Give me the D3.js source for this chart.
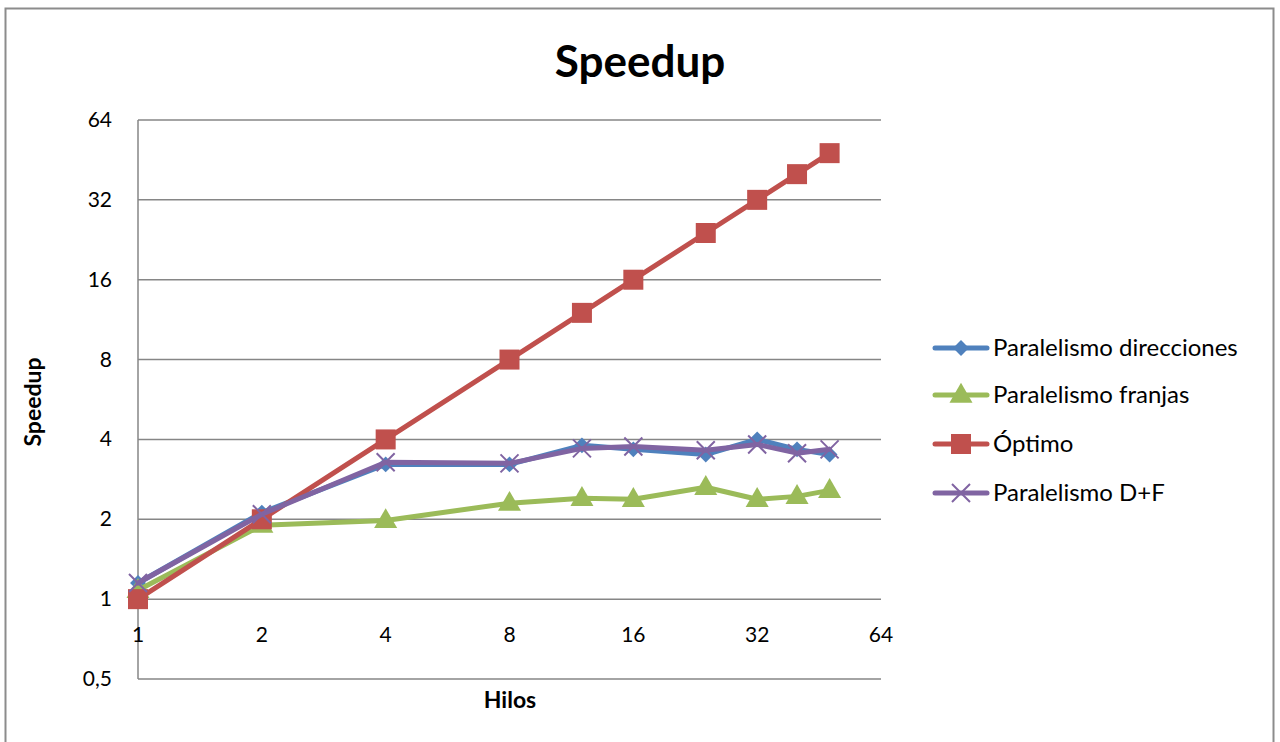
<!DOCTYPE html>
<html><head><meta charset="utf-8">
<script src="https://cdn.jsdelivr.net/npm/d3@7"></script>
<style>body{margin:0;background:#fff}svg{display:block;font-family:Lato,"Open Sans",sans-serif}</style>
</head><body><svg id="c" width="1280" height="742"></svg>
<script>
const hilos = [1, 2, 4, 8, 12, 16, 24, 32, 40, 48];
const direcciones = [1.15, 2.12, 3.22, 3.22, 3.8, 3.67, 3.51, 4.0, 3.67, 3.51];
const franjas = [1.08, 1.9, 1.98, 2.3, 2.4, 2.38, 2.64, 2.38, 2.44, 2.57];
const optimo = [1, 2, 4, 8, 12, 16, 24, 32, 40, 48];
const dmasf = [1.15, 2.09, 3.28, 3.25, 3.7, 3.76, 3.64, 3.83, 3.55, 3.67];
const xTicks = [1, 2, 4, 8, 16, 32, 64];
const yTicks = [0.5, 1, 2, 4, 8, 16, 32, 64];
const seriesNames = ["Paralelismo direcciones", "Paralelismo franjas", "Óptimo", "Paralelismo D+F"];

const series = [
  {name: seriesNames[0], values: direcciones, color: "#4F81BD", marker: "diamond"},
  {name: seriesNames[1], values: franjas, color: "#9BBB59", marker: "triangle"},
  {name: seriesNames[2], values: optimo, color: "#C0504D", marker: "square"},
  {name: seriesNames[3], values: dmasf, color: "#8064A2", marker: "x"}
];

const svg = d3.select("#c");
svg.append("rect").attr("x", 5.5).attr("y", 8.5).attr("width", 1268).attr("height", 740)
  .attr("fill", "#fff").attr("stroke", "#8c8c8c").attr("stroke-width", 2);

const x = d3.scaleLog().base(2).domain([1, 64]).range([138, 881]);
const y = d3.scaleLog().base(2).domain([0.5, 64]).range([679, 120]);

svg.append("g").selectAll("line").data(yTicks).join("line")
  .attr("x1", 138).attr("x2", 881).attr("y1", d => y(d)).attr("y2", d => y(d))
  .attr("stroke", "#868686").attr("stroke-width", 1.5);
svg.append("line").attr("x1", 138).attr("x2", 138).attr("y1", y(64)).attr("y2", y(0.5))
  .attr("stroke", "#868686").attr("stroke-width", 1.5);

const fmt = d => String(d).replace(".", ",");
svg.append("g").selectAll("text").data(yTicks).join("text")
  .attr("x", 112).attr("y", d => y(d) + 7).attr("text-anchor", "end")
  .attr("font-size", 21).attr("fill", "#000").text(fmt);
svg.append("g").selectAll("text").data(xTicks).join("text")
  .attr("x", d => x(d)).attr("y", y(1) + 43).attr("text-anchor", "middle")
  .attr("font-size", 21).attr("fill", "#000").text(fmt);

svg.append("text").attr("x", 640).attr("y", 77).attr("text-anchor", "middle")
  .attr("font-size", 44).attr("font-weight", "bold").text("Speedup");
svg.append("text").attr("x", 510).attr("y", 708).attr("text-anchor", "middle")
  .attr("font-size", 23).attr("font-weight", "bold").text("Hilos");
svg.append("text").attr("transform", "translate(41,402) rotate(-90)").attr("text-anchor", "middle")
  .attr("font-size", 23).attr("font-weight", "bold").text("Speedup");

function drawMarker(g, type, color, cx, cy) {
  if (type === "diamond") {
    g.append("path").attr("d", d3.symbol(d3.symbolDiamond2, 160)()).attr("transform", `translate(${cx},${cy})`).attr("fill", color);
  } else if (type === "triangle") {
    g.append("path").attr("d", d3.symbol(d3.symbolTriangle, 230)()).attr("transform", `translate(${cx},${cy+1})`).attr("fill", color);
  } else if (type === "square") {
    g.append("rect").attr("x", cx - 10).attr("y", cy - 10).attr("width", 20).attr("height", 20).attr("fill", color);
  } else {
    g.append("path").attr("d", `M${cx-9},${cy-9}L${cx+9},${cy+9}M${cx-9},${cy+9}L${cx+9},${cy-9}`)
      .attr("stroke", color).attr("stroke-width", 2);
  }
}

const line = d3.line().x(d => x(d[0])).y(d => y(d[1]));
series.forEach(s => {
  const g = svg.append("g");
  const pts = hilos.map((h, i) => [h, s.values[i]]);
  g.append("path").attr("d", line(pts)).attr("fill", "none").attr("stroke", s.color)
    .attr("stroke-width", 5).attr("stroke-linejoin", "round").attr("stroke-linecap", "round");
  pts.forEach(p => drawMarker(g, s.marker, s.color, x(p[0]), y(p[1])));
});

const legY = [348, 395, 444, 493];
series.forEach((s, i) => {
  const g = svg.append("g");
  const ly = legY[i];
  g.append("line").attr("x1", 935).attr("x2", 987).attr("y1", ly).attr("y2", ly)
    .attr("stroke", s.color).attr("stroke-width", 5).attr("stroke-linecap", "round");
  drawMarker(g, s.marker, s.color, 961, ly);
  g.append("text").attr("x", 993).attr("y", ly + 8).attr("font-size", 24).attr("fill", "#000").text(s.name);
});
</script></body></html>
